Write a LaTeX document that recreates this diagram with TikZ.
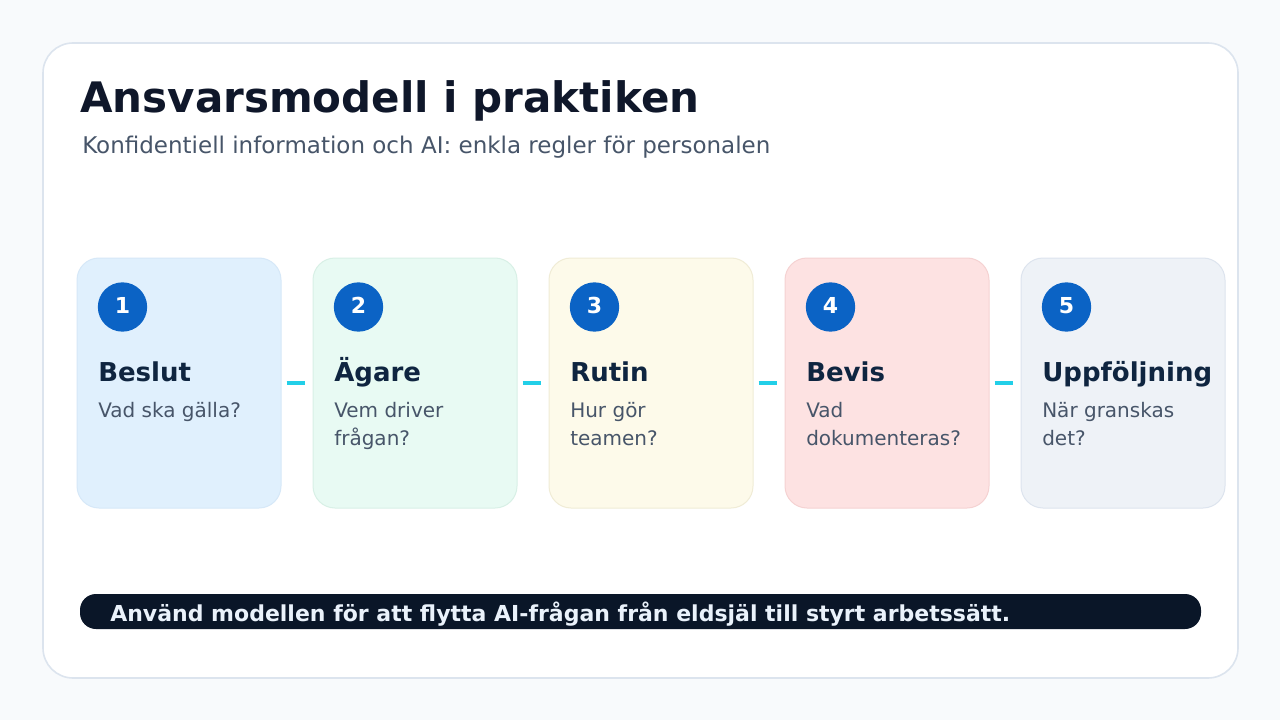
\documentclass[tikz,border=0pt]{standalone}
\usepackage{fontspec}
\setmainfont{DejaVu Sans}
\definecolor{bgc}{HTML}{F8FAFC}
\definecolor{panelb}{HTML}{DCE4EE}
\definecolor{titlec}{HTML}{0F172A}
\definecolor{subc}{HTML}{475569}
\definecolor{ctitle}{HTML}{0F2540}
\definecolor{ctext}{HTML}{475569}
\definecolor{circc}{HTML}{0B63C5}
\definecolor{connc}{HTML}{22CFE8}
\definecolor{barc}{HTML}{0A1628}
\definecolor{bartext}{HTML}{EAF2FB}
\definecolor{fa}{HTML}{E0F0FD}\definecolor{ba}{HTML}{D6E8F8}
\definecolor{fb}{HTML}{E8FAF3}\definecolor{bb}{HTML}{D8F0E6}
\definecolor{fc}{HTML}{FDFAEA}\definecolor{bc}{HTML}{F0ECD6}
\definecolor{fd}{HTML}{FDE2E2}\definecolor{bd}{HTML}{F5D2D2}
\definecolor{fe}{HTML}{EEF2F7}\definecolor{be}{HTML}{DDE4EE}
\tikzset{
  card/.style={rectangle, rounded corners=16.5pt, minimum width=153pt, minimum height=187.5pt, inner sep=0pt, line width=0.75pt},
  numcirc/.style={circle, fill=circc, minimum size=37pt, inner sep=0pt, text=white, font=\bfseries\fontsize{16.5}{16.5}\selectfont},
  ctit/.style={anchor=base west, inner sep=0pt, text=ctitle, font=\bfseries\fontsize{19.5}{19.5}\selectfont},
  ctxt/.style={anchor=base west, inner sep=0pt, text=ctext, font=\fontsize{15}{21}\selectfont},
  conn/.style={draw=connc, line width=3pt, shorten <=3.75pt, shorten >=6pt}
}
\begin{document}
\begin{tikzpicture}[x=0.75pt,y=-0.75pt]
\useasboundingbox (0,0) rectangle (1280,720);
\fill[bgc] (0,0) rectangle (1280,720);
\draw[panelb, fill=white, line width=1.2pt, rounded corners=22.5pt] (43,43) rectangle (1238,678);
\node[anchor=base west, inner sep=0pt, text=titlec, font=\bfseries\fontsize{31.5}{31.5}\selectfont] (title) at (80,113) {Ansvarsmodell i praktiken};
\node[anchor=base west, inner sep=0pt, text=subc, font=\fontsize{17.25}{17.25}\selectfont] (sub) at (82,154) {Konfidentiell information och AI: enkla regler för personalen};
% cards
\foreach \i/\f/\b/\t/\s [count=\k from 0] in {1/fa/ba/Beslut/{\hbox{Vad ska gälla?}}, 2/fb/bb/Ägare/{\hbox{Vem driver}\hbox{frågan?}}, 3/fc/bc/Rutin/{\hbox{Hur gör}\hbox{teamen?}}, 4/fd/bd/Bevis/{\hbox{Vad}\hbox{dokumenteras?}}, 5/fe/be/Uppföljning/{\hbox{När granskas}\hbox{det?}}}{
  \pgfmathsetmacro{\cx}{179+236*\k}
  \pgfmathsetmacro{\lx}{98+236*\k}
  \node[card, fill=\f, draw=\b] (c\i) at (\cx,383) {};
  \node[numcirc] (n\i) at (\lx+24.5,307) {\raisebox{3pt}{\i}};
  \node[ctit] (t\i) at (\lx,381) {\t};
  \node[ctxt] (s\i) at (\lx,417) {\vtop{\s}};
}
\draw[conn] (c1.east) -- (c2.west);
\draw[conn] (c2.east) -- (c3.west);
\draw[conn] (c3.east) -- (c4.west);
\draw[conn] (c4.east) -- (c5.west);
% bottom bar
\node[rectangle, fill=barc, rounded corners=12pt, minimum width=840.75pt, minimum height=26.25pt, inner sep=0pt] (bar) at (640.5,611.5) {};
\node[anchor=base west, inner sep=0pt, text=bartext, font=\bfseries\fontsize{16.5}{16.5}\selectfont] (bt) at (110,621) {Använd modellen för att flytta AI-frågan från eldsjäl till styrt arbetssätt.};
\end{tikzpicture}
\end{document}
